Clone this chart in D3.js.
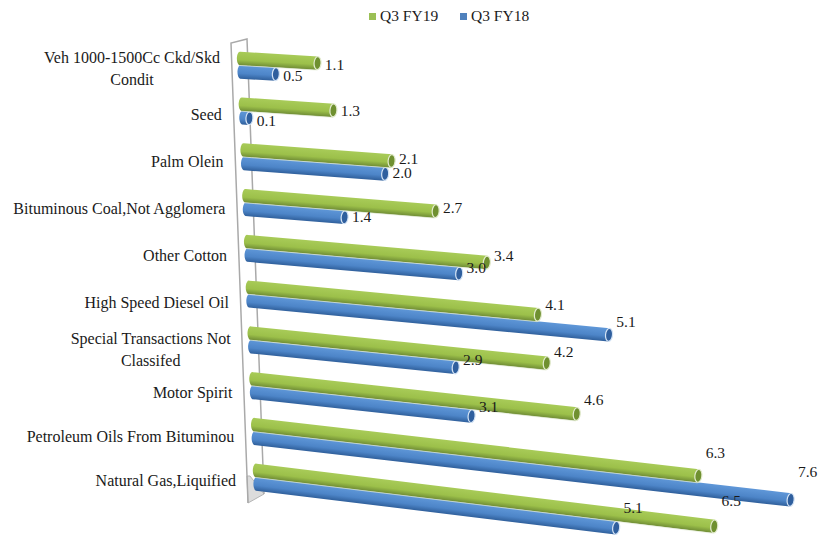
<!DOCTYPE html>
<html>
<head>
<meta charset="utf-8">
<script src="https://cdn.jsdelivr.net/npm/d3@7"></script>
<style>
  html, body { margin: 0; padding: 0; background: #fff; }
  text { font-family: "Liberation Serif", serif; fill: #1a1a1a; }
</style>
</head>
<body>
<div id="vis"></div>
<script>
const FRAME_WIDTH = 829;
const FRAME_HEIGHT = 538;

// data
const categories = ["Veh 1000-1500Cc Ckd/Skd\nCondit", "Seed", "Palm Olein", "Bituminous Coal,Not Agglomera",
  "Other Cotton", "High Speed Diesel Oil", "Special Transactions Not\nClassifed", "Motor Spirit",
  "Petroleum Oils From Bituminou", "Natural Gas,Liquified"];
const fy19 = [1.1, 1.3, 2.1, 2.7, 3.4, 4.1, 4.2, 4.6, 6.3, 6.5];
const fy18 = [0.5, 0.1, 2.0, 1.4, 3.0, 5.1, 2.9, 3.1, 7.6, 5.1];
const seriesNames = ["Q3 FY19", "Q3 FY18"];

const COLORS = [
  {top: "#a8cb58", mid: "#9cc04a", low: "#6f8c35", cap: "#6f9030", rim: "#e3ebcf"},
  {top: "#5f97d8", mid: "#4d85c8", low: "#30609c", cap: "#2f5f9e", rim: "#d5e4f5"}
];
const BAR_H = 13.5;

const svg = d3.select("#vis").append("svg")
  .attr("width", FRAME_WIDTH)
  .attr("height", FRAME_HEIGHT)
  .style("display", "block");
const defs = svg.append("defs");

// scales, the chart is a tilted 3d one so the slope grows row by row
const X_SCALE = d3.scaleLinear().domain([0, 8]).range([0, 564]);
const ROW = d3.scaleLinear().domain([0, categories.length - 1]);
const rowStartX = ROW.copy().range([240, 256]);
const rowStartY = ROW.copy().range([58.5, 470.5]);
const rowSlope = ROW.copy().range([0.06, 0.122]);
const labelLift = ROW.copy().range([1.5, 4.4]);
const Y_AXIS = d3.scaleLinear().domain([0, 6, 9]).range([68, 349, 480]);

const SERIES_GAP = 13.5;

function project(v, row, s) {
  const dx = X_SCALE(v);
  return [rowStartX(row) + dx + s * 0.6, rowStartY(row) + s * SERIES_GAP + dx * rowSlope(row)];
}

// back wall
const wallTop = [[231, 43], [247, 39]];
const wallBot = [[248, 503], [264, 494]];
svg.append("path")
  .attr("d", d3.line()([wallBot[0], wallBot[1], [250, 476], [247, 476]]) + "Z")
  .attr("fill", "#dcdcdc")
  .attr("stroke", "#b5b5b5");
svg.append("path")
  .attr("d", d3.line()([wallBot[0], wallTop[0], wallTop[1], wallBot[1]]))
  .attr("fill", "none")
  .attr("stroke", "#a9a9a9")
  .attr("stroke-width", 1.5);

// flatten rows into one bar list
const bars = [];
categories.forEach((c, i) => {
  bars.push({row: i, s: 1, v: fy18[i]});
  bars.push({row: i, s: 0, v: fy19[i]});
});

bars.forEach((d, i) => {
  const a = project(0, d.row, d.s);
  const b = project(d.v, d.row, d.s);
  const k = rowSlope(d.row);
  const n = Math.hypot(k, 1);
  d.nx = -k / n;
  d.ny = 1 / n;
  d.a = a;
  d.b = b;
  d.id = "bar" + i;
  const g = defs.append("linearGradient")
    .attr("id", d.id)
    .attr("gradientUnits", "userSpaceOnUse")
    .attr("x1", a[0] - d.nx * BAR_H / 2).attr("y1", a[1] - d.ny * BAR_H / 2)
    .attr("x2", a[0] + d.nx * BAR_H / 2).attr("y2", a[1] + d.ny * BAR_H / 2);
  const c = COLORS[d.s];
  g.append("stop").attr("offset", "0").attr("stop-color", c.top);
  g.append("stop").attr("offset", "0.6").attr("stop-color", c.mid);
  g.append("stop").attr("offset", "1").attr("stop-color", c.low);
});

const barG = svg.selectAll(".bar")
  .data(bars)
  .enter()
  .append("g")
    .attr("class", "bar");

barG.append("path")
  .attr("d", (d) => {
    const h = BAR_H / 2;
    return "M" + (d.a[0] + d.nx * h) + "," + (d.a[1] + d.ny * h)
      + "A3,6.5 0 0 1 " + (d.a[0] - d.nx * h) + "," + (d.a[1] - d.ny * h)
      + "L" + (d.b[0] - d.nx * h) + "," + (d.b[1] - d.ny * h)
      + "L" + (d.b[0] + d.nx * h) + "," + (d.b[1] + d.ny * h) + "Z";
  })
  .attr("fill", (d) => "url(#" + d.id + ")");

// pale edge under the green tube
barG.filter((d) => d.s === 0).append("line")
  .attr("x1", (d) => d.a[0] + d.nx * 7)
  .attr("y1", (d) => d.a[1] + d.ny * 7)
  .attr("x2", (d) => d.b[0] + d.nx * 7)
  .attr("y2", (d) => d.b[1] + d.ny * 7)
  .attr("stroke", "#e6eedb")
  .attr("stroke-width", 0.7);

barG.append("ellipse")
  .attr("cx", 0).attr("cy", 0)
  .attr("rx", 3.5).attr("ry", BAR_H / 2 - 0.3)
  .attr("transform", (d) => "translate(" + d.b[0] + "," + d.b[1] + ") rotate(" + (Math.atan(rowSlope(d.row)) * 180 / Math.PI) + ")")
  .attr("fill", (d) => COLORS[d.s].cap)
  .attr("stroke", (d) => COLORS[d.s].rim)
  .attr("stroke-width", 1.2);

// value labels
svg.selectAll(".value")
  .data(bars)
  .enter()
  .append("text")
    .attr("class", "value")
    .attr("x", (d) => d.b[0] + 17)
    .attr("y", (d) => d.b[1] + 8 - labelLift(d.row) * d.v)
    .attr("text-anchor", "middle")
    .attr("font-size", "15.5px")
    .text((d) => d.v.toFixed(1));

// category axis
const axisG = svg.append("g")
  .call(d3.axisLeft(Y_AXIS).tickValues(d3.range(categories.length)).tickSize(0).tickFormat(""));
axisG.select(".domain").remove();
axisG.selectAll(".tick").each(function (i) {
  const right = rowStartX(i) - 20;
  const lines = categories[i].split("\n");
  const t = d3.select(this).select("text")
    .attr("x", 0)
    .attr("dy", null)
    .attr("y", 0)
    .attr("font-size", "16px")
    .attr("text-anchor", "end");
  t.text(lines[0]).attr("transform", "translate(" + right + "," + (lines.length > 1 ? -6 : 5) + ")");
  if (lines.length > 1) {
    // the second line sits centred under the first one
    const w = t.node().getComputedTextLength();
    d3.select(this).append("text")
      .attr("transform", "translate(" + (right - w / 2) + ",16)")
      .attr("text-anchor", "middle")
      .attr("font-size", "16px")
      .text(lines[1]);
  }
});

// legend
const LEGEND_X = d3.scalePoint().domain(seriesNames).range([369, 460]);
const legend = svg.selectAll(".legend")
  .data(seriesNames)
  .enter()
  .append("g")
    .attr("class", "legend")
    .attr("transform", (d) => "translate(" + LEGEND_X(d) + ",13)");
legend.append("rect")
  .attr("width", 7).attr("height", 7)
  .attr("fill", (d, i) => i === 0 ? "#9bc055" : "#4f81bd");
legend.append("text")
  .attr("x", 11).attr("y", 8)
  .attr("font-size", "15.5px")
  .text((d) => d);
</script>
</body>
</html>
